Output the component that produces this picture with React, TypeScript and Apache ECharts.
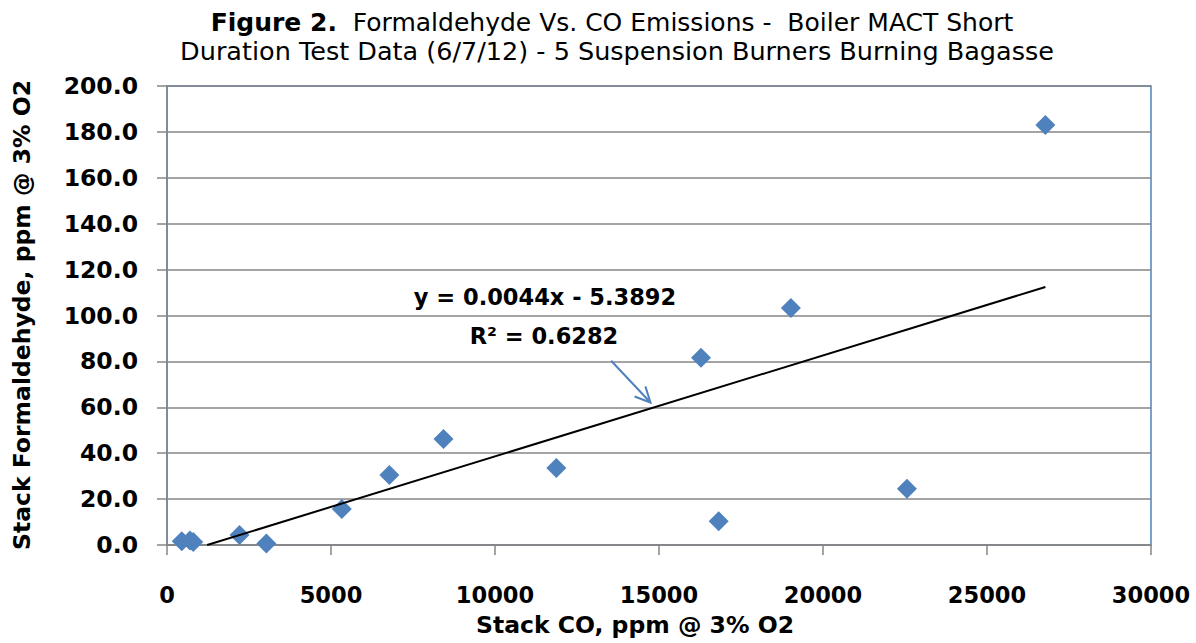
import React, { useEffect, useRef } from "react";
import * as echarts from "echarts";

// Stack CO (ppm @ 3% O2) and matching stack formaldehyde (ppm @ 3% O2)
const coPpm = [450, 700, 800, 2210, 3030, 5330, 6780, 8430, 11870, 16280, 16820, 19020, 22560, 26780];
const formaldehydePpm = [1.6, 2.0, 1.3, 4.4, 0.6, 15.7, 30.5, 46.2, 33.6, 81.6, 10.3, 103.3, 24.5, 183.0];

// Linear trendline reported for the data
const slope = 0.0044;
const intercept = -5.3892;
const rSquared = 0.6282;

const xTicks = [0, 5000, 10000, 15000, 20000, 25000, 30000];
const yTicks = [0, 20, 40, 60, 80, 100, 120, 140, 160, 180, 200];

const FONT = "DejaVu Sans";
const BLUE = "#4F81BD";
const GRID_GREY = "#868686";

export default function App() {
  const ref = useRef<HTMLDivElement>(null);

  useEffect(() => {
    if (!ref.current) return;
    const chart = echarts.init(ref.current, null, { renderer: "svg" });

    const points = coPpm.map((x, i) => [x, formaldehydePpm[i]]);
    // Trendline runs over the data range, clipped at the zero floor of the axis
    const xMax = Math.max(...coPpm);
    const xStart = Math.max(Math.min(...coPpm), -intercept / slope);
    const trend = [
      [xStart, slope * xStart + intercept],
      [xMax, slope * xMax + intercept],
    ];

    const bold = { fontFamily: FONT, fontWeight: "bold" as const, color: "#000" };

    chart.setOption({
      animation: false,
      grid: {
        left: 167,
        right: 45,
        top: 86,
        bottom: 98,
        show: true,
        borderColor: BLUE,
        borderWidth: 1.5,
        backgroundColor: "#fff",
      },
      xAxis: {
        type: "value",
        min: xTicks[0],
        max: xTicks[xTicks.length - 1],
        interval: xTicks[1] - xTicks[0],
        axisLine: { show: true, onZero: false, lineStyle: { color: GRID_GREY, width: 1.5 } },
        axisTick: { show: true, inside: false, length: 10, lineStyle: { color: GRID_GREY, width: 1.5 } },
        axisLabel: { ...bold, fontSize: 22.5, margin: 38, formatter: (v: number) => String(v) },
        splitLine: { show: false },
      },
      yAxis: {
        type: "value",
        min: yTicks[0],
        max: yTicks[yTicks.length - 1],
        interval: yTicks[1] - yTicks[0],
        axisLine: { show: true, lineStyle: { color: GRID_GREY, width: 1.5 } },
        axisTick: { show: true, inside: false, length: 10, lineStyle: { color: GRID_GREY, width: 1.5 } },
        axisLabel: { ...bold, fontSize: 23.5, margin: 29, formatter: (v: number) => v.toFixed(1) },
        splitLine: { show: true, lineStyle: { color: GRID_GREY, width: 1.5 } },
      },
      series: [
        {
          type: "scatter",
          data: points,
          symbol: "diamond",
          symbolSize: 20,
          itemStyle: { color: BLUE, opacity: 1 },
          z: 3,
        },
        {
          type: "line",
          data: trend,
          symbol: "none",
          lineStyle: { color: "#000", width: 2 },
          z: 4,
        },
      ],
    });

    // Arrow from the equation label down to the trendline
    const arrowFrom = chart.convertToPixel({ gridIndex: 0 }, [13540, 80.3]) as number[];
    const arrowTo = chart.convertToPixel({ gridIndex: 0 }, [14740, slope * 14740 + intercept + 2.6]) as number[];
    const ang = Math.atan2(arrowTo[1] - arrowFrom[1], arrowTo[0] - arrowFrom[0]);
    const head = 17;
    const spread = 0.45;
    const h1 = [arrowTo[0] - head * Math.cos(ang - spread), arrowTo[1] - head * Math.sin(ang - spread)];
    const h2 = [arrowTo[0] - head * Math.cos(ang + spread), arrowTo[1] - head * Math.sin(ang + spread)];

    const centered = (text: string, size: number, weight: string) => ({
      text,
      fontFamily: FONT,
      fontWeight: weight,
      fontSize: size,
      fill: "#000",
      align: "center",
      verticalAlign: "middle",
    });

    chart.setOption({
      graphic: [
        {
          type: "text",
          x: 612,
          y: 22,
          style: {
            ...centered("{b|Figure 2.}  Formaldehyde Vs. CO Emissions -  Boiler MACT Short", 25, "normal"),
            rich: {
              b: { fontFamily: FONT, fontWeight: "bold", fontSize: 25, fill: "#000" },
            },
          },
        },
        {
          type: "text",
          x: 617,
          y: 51,
          style: centered("Duration Test Data (6/7/12) - 5 Suspension Burners Burning Bagasse", 25.5, "normal"),
        },
        {
          type: "text",
          x: 635,
          y: 625,
          style: centered("Stack CO, ppm @ 3% O2", 23.5, "bold"),
        },
        {
          type: "text",
          x: 22,
          y: 315,
          rotation: Math.PI / 2,
          style: centered("Stack Formaldehyde, ppm @ 3% O2", 23.5, "bold"),
        },
        {
          type: "text",
          x: 545,
          y: 297,
          z: 10,
          style: centered(`y = ${slope.toFixed(4)}x - ${Math.abs(intercept).toFixed(4)}`, 22.5, "bold"),
        },
        {
          type: "text",
          x: 544,
          y: 336,
          z: 10,
          style: centered(`R² = ${rSquared.toFixed(4)}`, 22.5, "bold"),
        },
        {
          type: "line",
          z: 10,
          shape: { x1: arrowFrom[0], y1: arrowFrom[1], x2: arrowTo[0], y2: arrowTo[1] },
          style: { stroke: BLUE, lineWidth: 2 },
        },
        {
          type: "polyline",
          z: 10,
          shape: { points: [h1, arrowTo, h2] },
          style: { stroke: BLUE, lineWidth: 2, fill: null },
        },
      ],
    });

    return () => chart.dispose();
  }, []);

  return (
    <div
      ref={ref}
      style={{ position: "fixed", left: 0, top: 0, width: 1196, height: 643, background: "#fff" }}
    />
  );
}
